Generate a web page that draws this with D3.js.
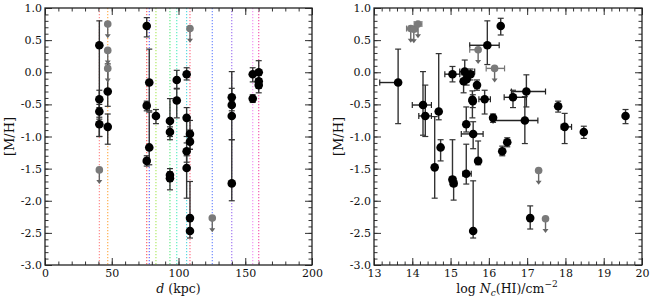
<!DOCTYPE html>
<html>
<head>
<meta charset="utf-8">
<script src="https://cdn.jsdelivr.net/npm/d3@7"></script>
<style>
  body { margin: 0; background: #fff; }
  text { font-family: 'DejaVu Serif', serif; fill: #111; }
</style>
</head>
<body>
<svg id="chart" width="651" height="301"></svg>
<script>
// left panel: vertical dotted lines, one per sightline distance
let lineDist = [40.7, 47.0, 76.2, 78.1, 83.1, 93.6, 98.7, 106.1, 108.6, 125.3, 139.9, 155.6, 160.1]
let lineColors = ['#ff6f6f', '#ff9a1f', '#ff3b3b', '#4040ff', '#9be43a', '#3de86a',
  '#30e8b8', '#2fd0d8', '#ff4a6a', '#4a6cff', '#8a55f0', '#f07af0', '#f0309a']

// left panel detections: distance, [M/H], lower and upper error
let detDist = [40.7, 40.7, 40.7, 40.7, 47.0, 47.0, 76.2, 76.2, 76.2, 78.1, 78.1, 83.1,
  93.6, 93.6, 93.6, 93.6, 98.7, 98.7, 106.1, 106.1, 106.1, 106.1, 108.6, 108.6, 108.6, 108.6,
  139.9, 139.9, 139.9, 139.9, 155.6, 155.6, 160.1, 160.1, 160.1]
let detMet = [0.42, -0.42, -0.61, -0.81, -0.30, -0.85, 0.72, -0.52, -1.38, -0.16, -1.17, -0.68,
  -0.76, -0.93, -1.60, -1.65, -0.12, -0.44, -0.03, -0.71, -1.23, -1.49, -0.96, -1.08, -2.27, -2.47,
  -0.39, -0.51, -0.68, -1.73, -0.03, -0.41, 0.00, -0.14, -0.20]
let detLo = [-1.00, -0.55, -0.73, -1.00, -0.53, -1.12, 0.55, -0.60, -1.46, -0.60, -1.44, -0.80,
  -1.00, -1.05, -1.70, -1.83, -0.25, -0.71, -0.12, -1.00, -1.40, -1.96, -1.20, -1.20, -2.45, -2.58,
  -0.50, -0.60, -1.05, -2.00, -0.15, -0.47, -0.10, -0.25, -0.32]
let detHi = [0.80, -0.28, -0.50, -0.70, 0.13, -0.65, 0.85, -0.45, -1.30, 0.36, -0.62, -0.58,
  -0.41, -0.85, -1.50, -1.55, 0.03, -0.26, 0.07, -0.55, -1.10, -1.30, -0.75, -0.90, -1.70, -2.30,
  0.01, -0.25, -0.45, -1.05, 0.07, -0.35, 0.18, -0.05, -0.10]

// left panel upper limits
let limDist = [40.7, 47.0, 47.0, 47.0, 108.6, 125.3]
let limMet = [-1.52, 0.75, 0.34, 0.06, 0.68, -2.27]

// right panel detections: log N(HI), [M/H] and their error ranges
let colN = [13.63, 14.28, 14.34, 14.69, 14.74, 14.585, 15.05, 15.05, 15.08, 15.37, 15.34, 15.42,
  15.52, 15.69, 15.57, 15.58, 15.41, 15.59, 15.41, 15.72, 15.59, 15.96, 16.31, 15.89, 16.11,
  16.94, 16.98, 16.63, 17.81, 17.98, 18.48, 19.57, 16.48, 16.35, 17.08]
let colMet = [-0.16, -0.51, -0.68, -0.61, -1.17, -1.48, -0.03, -1.67, -1.73, 0.01, -0.14, -0.11,
  -0.03, -0.20, -0.43, -0.45, -0.81, -0.96, -1.58, -1.38, -2.47, 0.42, 0.72, -0.42, -0.71,
  -0.75, -0.30, -0.39, -0.53, -0.85, -0.93, -0.68, -1.09, -1.23, -2.27]
let colNlo = [13.15, 14.00, 14.17, 14.69, 14.74, 14.585, 14.85, 14.97, 15.00, 15.24, 15.34, 15.42,
  15.47, 15.69, 15.57, 15.58, 15.41, 15.28, 15.32, 15.72, 15.59, 15.50, 16.31, 15.74, 16.11,
  16.11, 16.59, 16.40, 17.81, 17.89, 18.48, 19.57, 16.48, 16.35, 17.08]
let colNhi = [13.63, 14.50, 14.50, 14.69, 14.74, 14.585, 15.24, 15.13, 15.16, 15.63, 15.34, 15.42,
  15.60, 15.69, 15.57, 15.58, 15.41, 15.85, 15.54, 15.72, 15.59, 16.27, 16.31, 16.04, 16.11,
  17.28, 17.48, 16.98, 17.81, 18.16, 18.48, 19.57, 16.48, 16.35, 17.08]
let colMlo = [-0.80, -0.98, -1.00, -0.74, -1.38, -1.96, -0.15, -1.75, -1.99, -0.12, -0.32, -0.20,
  -0.12, -0.28, -0.71, -0.55, -0.93, -1.19, -1.74, -1.44, -2.58, 0.12, 0.58, -0.65, -0.78,
  -1.11, -0.54, -0.55, -0.62, -1.11, -1.03, -0.80, -1.16, -1.30, -2.44]
let colMhi = [0.36, 0.01, -0.20, 0.29, -1.05, -0.69, 0.09, -1.05, -1.65, 0.19, -0.04, -0.02,
  0.05, -0.12, -0.29, -0.35, -0.54, -0.77, -1.12, -1.07, -1.69, 0.80, 0.84, -0.28, -0.65,
  -0.38, -0.04, -0.28, -0.45, -0.64, -0.84, -0.58, -1.02, -1.15, -2.08]

// right panel upper limits
let ulN = [13.96, 14.04, 14.15, 15.72, 16.15, 17.30, 17.48]
let ulMet = [0.68, 0.67, 0.75, 0.35, 0.06, -1.53, -2.28]
let ulNlo = [13.85, 13.95, 14.05, 15.50, 15.93, 17.30, 17.48]
let ulNhi = [14.05, 14.12, 14.25, 15.75, 16.41, 17.30, 17.48]

let svg = d3.select('#chart')
let plotTop = 8, plotBottom = 265
let arrowLen = 0.22

let y = d3.scaleLinear().domain([-3, 1]).range([plotBottom, plotTop])

function drawFrame(g, x, xMajor, xMinor, xFmt) {
  let yMajor = d3.range(-3, 1.001, 0.5)
  let yMinor = d3.range(-3, 1.001, 0.1)
  let x0 = x.range()[0], x1 = x.range()[1]

  g.append('g').attr('transform', `translate(0,${plotBottom})`)
    .call(d3.axisBottom(x).tickValues(xMinor).tickSize(-3.5).tickFormat(''))
  g.append('g').attr('transform', `translate(0,${plotBottom})`)
    .call(d3.axisBottom(x).tickValues(xMajor).tickSize(-7).tickPadding(4).tickFormat(xFmt))
  g.append('g').attr('transform', `translate(0,${plotTop})`)
    .call(d3.axisTop(x).tickValues(xMinor).tickSize(-3.5).tickFormat(''))
  g.append('g').attr('transform', `translate(0,${plotTop})`)
    .call(d3.axisTop(x).tickValues(xMajor).tickSize(-7).tickFormat(''))

  g.append('g').attr('transform', `translate(${x0},0)`)
    .call(d3.axisLeft(y).tickValues(yMinor).tickSize(-3.5).tickFormat(''))
  g.append('g').attr('transform', `translate(${x0},0)`)
    .call(d3.axisLeft(y).tickValues(yMajor).tickSize(-7).tickPadding(3).tickFormat(d => d.toFixed(1)))
  g.append('g').attr('transform', `translate(${x1},0)`)
    .call(d3.axisRight(y).tickValues(yMinor).tickSize(-3.5).tickFormat(''))
  g.append('g').attr('transform', `translate(${x1},0)`)
    .call(d3.axisRight(y).tickValues(yMajor).tickSize(-7).tickFormat(''))

  g.selectAll('.domain').remove()
  g.selectAll('.tick line').attr('stroke', '#333')
  g.selectAll('.tick text').style('font-family', "'DejaVu Serif', serif").style('font-size', '11px').attr('fill', '#111')

  g.append('rect')
    .attr('x', x0).attr('y', plotTop)
    .attr('width', x1 - x0).attr('height', plotBottom - plotTop)
    .attr('fill', 'none').attr('stroke', '#222').attr('stroke-width', 1.3)

  g.append('text')
    .attr('transform', `translate(${x0 - 31},${(plotTop + plotBottom) / 2}) rotate(-90)`)
    .attr('text-anchor', 'middle')
    .style('font-size', '13px')
    .text('[M/H]')
}

function vbar(g, cx, yLo, yHi, color) {
  g.append('line').attr('x1', cx).attr('x2', cx).attr('y1', y(yLo)).attr('y2', y(yHi))
    .attr('stroke', color).attr('stroke-width', 1.4)
  ;[yLo, yHi].forEach(v => {
    g.append('line').attr('x1', cx - 3).attr('x2', cx + 3).attr('y1', y(v)).attr('y2', y(v))
      .attr('stroke', color).attr('stroke-width', 1.2)
  })
}

function hbar(g, x, lo, hi, cy, color) {
  if (lo === hi) return
  g.append('line').attr('x1', x(lo)).attr('x2', x(hi)).attr('y1', cy).attr('y2', cy)
    .attr('stroke', color).attr('stroke-width', 1.4)
  ;[lo, hi].forEach(v => {
    g.append('line').attr('x1', x(v)).attr('x2', x(v)).attr('y1', cy - 3).attr('y2', cy + 3)
      .attr('stroke', color).attr('stroke-width', 1.2)
  })
}

function upperLimit(g, cx, m, color) {
  let tip = y(m - arrowLen)
  g.append('line').attr('x1', cx).attr('x2', cx).attr('y1', y(m)).attr('y2', tip - 3)
    .attr('stroke', color).attr('stroke-width', 1.4)
  g.append('path')
    .attr('d', `M${cx - 3},${tip - 4}L${cx + 3},${tip - 4}L${cx},${tip}Z`)
    .attr('fill', color)
  g.append('circle').attr('cx', cx).attr('cy', y(m)).attr('r', 3.8).attr('fill', '#7a7a7a')
}

// ---- left panel ----
let xL = d3.scaleLinear().domain([0, 200]).range([45, 312])
let gL = svg.append('g')

gL.selectAll('.sightline')
  .data(lineDist)
  .enter()
  .append('line')
  .attr('class', 'sightline')
  .attr('x1', d => xL(d)).attr('x2', d => xL(d))
  .attr('y1', plotTop).attr('y2', plotBottom)
  .attr('stroke', (d, i) => lineColors[i])
  .attr('stroke-width', 1.1)
  .attr('stroke-opacity', 0.85)
  .attr('stroke-dasharray', '1.2,1.8')

detDist.forEach((d, i) => vbar(gL, xL(d), detLo[i], detHi[i], '#333'))
limDist.forEach((d, i) => upperLimit(gL, xL(d), limMet[i], '#666'))
gL.selectAll('.det')
  .data(detDist)
  .enter()
  .append('circle')
  .attr('cx', d => xL(d))
  .attr('cy', (d, i) => y(detMet[i]))
  .attr('r', 4.3)
  .attr('fill', '#000')

drawFrame(gL, xL, d3.range(0, 201, 50), d3.range(0, 201, 10), d => d)

let dLabel = gL.append('text')
  .attr('x', 178.5).attr('y', 293)
  .attr('text-anchor', 'middle')
  .style('font-size', '12.5px')
dLabel.append('tspan').style('font-style', 'italic').text('d')
dLabel.append('tspan').text(' (kpc)')

// ---- right panel ----
let xR = d3.scaleLinear().domain([13, 20]).range([374, 642])
let gR = svg.append('g')

colN.forEach((n, i) => {
  vbar(gR, xR(n), colMlo[i], colMhi[i], '#333')
  hbar(gR, xR, colNlo[i], colNhi[i], y(colMet[i]), '#222')
})
ulN.forEach((n, i) => {
  hbar(gR, xR, ulNlo[i], ulNhi[i], y(ulMet[i]), '#777')
  upperLimit(gR, xR(n), ulMet[i], '#666')
})
gR.selectAll('.det')
  .data(colN)
  .enter()
  .append('circle')
  .attr('cx', d => xR(d))
  .attr('cy', (d, i) => y(colMet[i]))
  .attr('r', 4.3)
  .attr('fill', '#000')

drawFrame(gR, xR, d3.range(13, 20.001, 1), d3.range(13, 20.001, 0.2), d => d)

let nLabel = gR.append('text')
  .attr('x', 507).attr('y', 293)
  .attr('text-anchor', 'middle')
  .style('font-size', '12.5px')
nLabel.append('tspan').text('log ')
nLabel.append('tspan').style('font-style', 'italic').text('N')
nLabel.append('tspan').attr('dy', 3).style('font-size', '9px').style('font-style', 'italic').text('c')
nLabel.append('tspan').attr('dy', -3).text('(HI)/cm')
nLabel.append('tspan').attr('dy', -6).style('font-size', '9px').text('\u22122')
</script>
</body>
</html>
